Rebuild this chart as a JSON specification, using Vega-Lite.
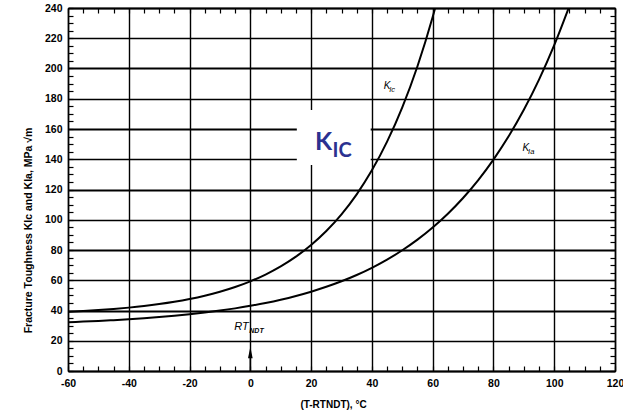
{
  "$schema": "https://vega.github.io/schema/vega-lite/v6.json",
  "width": 547,
  "height": 363,
  "autosize": {"type": "none"},
  "padding": {"left": 68, "top": 8, "right": 8, "bottom": 41},
  "background": "white",
  "config": {
    "view": {"stroke": null},
    "axis": {
      "labelFont": "Liberation Sans",
      "titleFont": "Liberation Sans",
      "labelColor": "#000",
      "titleColor": "#000",
      "domainColor": "#000",
      "tickColor": "#000",
      "gridColor": "#000"
    }
  },
  "datasets": {
    "kic": [
      {"t": -60, "k": 39.13}, {"t": -55, "k": 39.65}, {"t": -50, "k": 40.27}, {"t": -45, "k": 41.01},
      {"t": -40, "k": 41.9}, {"t": -35, "k": 42.96}, {"t": -30, "k": 44.24}, {"t": -25, "k": 45.76},
      {"t": -20, "k": 47.59}, {"t": -15, "k": 49.78}, {"t": -10, "k": 52.4}, {"t": -5, "k": 55.53},
      {"t": 0, "k": 59.28}, {"t": 5, "k": 63.78}, {"t": 10, "k": 69.16}, {"t": 15, "k": 75.6},
      {"t": 20, "k": 83.31}, {"t": 25, "k": 92.54}, {"t": 30, "k": 103.59}, {"t": 35, "k": 116.82},
      {"t": 40, "k": 132.66}, {"t": 45, "k": 151.62}, {"t": 50, "k": 174.33}, {"t": 55, "k": 201.51},
      {"t": 60, "k": 234.05}, {"t": 61, "k": 241.3}
    ],
    "kia": [
      {"t": -60, "k": 32.26}, {"t": -55, "k": 32.65}, {"t": -50, "k": 33.11}, {"t": -45, "k": 33.63},
      {"t": -40, "k": 34.21}, {"t": -35, "k": 34.89}, {"t": -30, "k": 35.65}, {"t": -25, "k": 36.52},
      {"t": -20, "k": 37.51}, {"t": -15, "k": 38.64}, {"t": -10, "k": 39.93}, {"t": -5, "k": 41.4},
      {"t": 0, "k": 43.08}, {"t": 5, "k": 44.98}, {"t": 10, "k": 47.15}, {"t": 15, "k": 49.63},
      {"t": 20, "k": 52.45}, {"t": 25, "k": 55.66}, {"t": 30, "k": 59.32}, {"t": 35, "k": 63.49},
      {"t": 40, "k": 68.25}, {"t": 45, "k": 73.66}, {"t": 50, "k": 79.83}, {"t": 55, "k": 86.86},
      {"t": 60, "k": 94.87}, {"t": 65, "k": 104.0}, {"t": 70, "k": 114.4}, {"t": 75, "k": 126.25},
      {"t": 80, "k": 139.76}, {"t": 85, "k": 155.14}, {"t": 90, "k": 172.67}, {"t": 95, "k": 192.65},
      {"t": 100, "k": 215.41}, {"t": 105, "k": 241.3}
    ]
  },
  "layer": [
    {
      "data": {"name": "kic"},
      "mark": {"type": "line", "color": "#000", "strokeWidth": 2, "clip": true, "interpolate": "monotone"},
      "encoding": {
        "x": {
          "field": "t", "type": "quantitative",
          "scale": {"domain": [-60, 120], "nice": false, "zero": false},
          "axis": {
            "orient": "bottom",
            "values": [-60,-55,-50,-45,-40,-35,-30,-25,-20,-15,-10,-5,0,5,10,15,20,25,30,35,40,45,50,55,60,65,70,75,80,85,90,95,100,105,110,115,120],
            "labelExpr": "datum.value % 20 === 0 ? '' + datum.value : ''",
            "labelOverlap": false,
            "labelFlush": false,
            "labelFontSize": 10.5,
            "labelFontWeight": "bold",
            "labelPadding": 12,
            "tickSize": -5,
            "tickWidth": 1.2,
            "domainWidth": 1.5,
            "grid": true,
            "gridOpacity": {"condition": {"test": "datum.value % 20 !== 0", "value": 0}, "value": 1},
            "gridWidth": 1.4,
            "title": "(T-RTNDT), °C",
            "titleFontSize": 10,
            "titleFontWeight": "bold",
            "titlePadding": 11,
            "titleX": 265
          }
        },
        "y": {
          "field": "k", "type": "quantitative",
          "scale": {"domain": [0, 240], "nice": false, "zero": true},
          "axis": {
            "orient": "left",
            "values": [0,5,10,15,20,25,30,35,40,45,50,55,60,65,70,75,80,85,90,95,100,105,110,115,120,125,130,135,140,145,150,155,160,165,170,175,180,185,190,195,200,205,210,215,220,225,230,235,240],
            "labelExpr": "datum.value % 20 === 0 ? '' + datum.value : ''",
            "labelOverlap": false,
            "labelFlush": false,
            "labelFontSize": 10.5,
            "labelFontWeight": "bold",
            "labelPadding": 11,
            "tickSize": -5,
            "tickWidth": 1.2,
            "domainWidth": 1.5,
            "grid": true,
            "gridOpacity": {"condition": {"test": "datum.value % 20 !== 0", "value": 0}, "value": 1},
            "gridWidth": {"condition": {"test": "datum.value % 40 === 0", "value": 2}, "value": 1.4},
            "title": "Fracture Toughness KIc and KIa, MPa √m",
            "titleFontSize": 10.5,
            "titleFontWeight": "bold",
            "titlePadding": 11,
            "titleY": 222
          }
        }
      }
    },
    {
      "data": {"name": "kia"},
      "mark": {"type": "line", "color": "#000", "strokeWidth": 2, "clip": true, "interpolate": "monotone"},
      "encoding": {
        "x": {
          "field": "t", "type": "quantitative",
          "axis": {
            "orient": "top",
            "values": [-60,-55,-50,-45,-40,-35,-30,-25,-20,-15,-10,-5,0,5,10,15,20,25,30,35,40,45,50,55,60,65,70,75,80,85,90,95,100,105,110,115,120],
            "labels": false, "grid": false, "tickSize": -5, "tickWidth": 1.2, "domainWidth": 1.5, "title": null
          }
        },
        "y": {
          "field": "k", "type": "quantitative",
          "axis": {
            "orient": "right",
            "values": [0,5,10,15,20,25,30,35,40,45,50,55,60,65,70,75,80,85,90,95,100,105,110,115,120,125,130,135,140,145,150,155,160,165,170,175,180,185,190,195,200,205,210,215,220,225,230,235,240],
            "labels": false, "grid": false, "tickSize": -5, "tickWidth": 1.2, "domainWidth": 1.5, "title": null
          }
        }
      }
    },
    {
      "data": {"values": [{"t": 15.3, "t2": 39.6, "k": 136.2, "k2": 172.6}]},
      "mark": {"type": "rect", "fill": "white"},
      "encoding": {
        "x": {"field": "t", "type": "quantitative", "axis": null},
        "x2": {"field": "t2"},
        "y": {"field": "k", "type": "quantitative", "axis": null},
        "y2": {"field": "k2"}
      }
    },
    {
      "data": {"values": [{"t": 21.3, "k": 146.1, "label": "K"}]},
      "mark": {"type": "text", "align": "left", "baseline": "alphabetic", "font": "Lato", "fontWeight": "bold", "fontSize": 25, "color": "#2b3190"},
      "encoding": {
        "x": {"field": "t", "type": "quantitative", "axis": null},
        "y": {"field": "k", "type": "quantitative", "axis": null},
        "text": {"field": "label"}
      }
    },
    {
      "data": {"values": [{"t": 21.3, "k": 146.1, "label": "IC"}]},
      "mark": {"type": "text", "align": "left", "baseline": "alphabetic", "dx": 17.5, "dy": 7, "font": "Lato", "fontWeight": "bold", "fontSize": 20, "color": "#2b3190"},
      "encoding": {
        "x": {"field": "t", "type": "quantitative", "axis": null},
        "y": {"field": "k", "type": "quantitative", "axis": null},
        "text": {"field": "label"}
      }
    },
    {
      "data": {"values": [{"t": 43.9, "k": 186.2, "label": "K"}, {"t": 89.6, "k": 145.6, "label": "K"}]},
      "mark": {"type": "text", "align": "left", "baseline": "alphabetic", "font": "Liberation Sans", "fontStyle": "italic", "fontSize": 10, "color": "#000"},
      "encoding": {
        "x": {"field": "t", "type": "quantitative", "axis": null},
        "y": {"field": "k", "type": "quantitative", "axis": null},
        "text": {"field": "label"}
      }
    },
    {
      "data": {"values": [{"t": 43.9, "k": 186.2, "label": "Ic"}, {"t": 89.6, "k": 145.6, "label": "Ia"}]},
      "mark": {"type": "text", "align": "left", "baseline": "alphabetic", "dx": 5.5, "dy": 3, "font": "Liberation Sans", "fontStyle": "italic", "fontSize": 7.5, "color": "#000"},
      "encoding": {
        "x": {"field": "t", "type": "quantitative", "axis": null},
        "y": {"field": "k", "type": "quantitative", "axis": null},
        "text": {"field": "label"}
      }
    },
    {
      "data": {"values": [{"t": -0.5, "k": 27.1, "label": "RT"}]},
      "mark": {"type": "text", "align": "right", "baseline": "alphabetic", "font": "Liberation Sans", "fontStyle": "italic", "fontSize": 11, "color": "#000"},
      "encoding": {
        "x": {"field": "t", "type": "quantitative", "axis": null},
        "y": {"field": "k", "type": "quantitative", "axis": null},
        "text": {"field": "label"}
      }
    },
    {
      "data": {"values": [{"t": -0.5, "k": 27.1, "label": "NDT"}]},
      "mark": {"type": "text", "align": "left", "baseline": "alphabetic", "dx": 0.5, "dy": 3, "font": "Liberation Sans", "fontStyle": "italic", "fontWeight": "bold", "fontSize": 7, "color": "#000"},
      "encoding": {
        "x": {"field": "t", "type": "quantitative", "axis": null},
        "y": {"field": "k", "type": "quantitative", "axis": null},
        "text": {"field": "label"}
      }
    },
    {
      "data": {"values": [{"t": 0, "k": 0, "k2": 9}]},
      "mark": {"type": "rule", "color": "#000", "strokeWidth": 1.5},
      "encoding": {
        "x": {"field": "t", "type": "quantitative", "axis": null},
        "y": {"field": "k", "type": "quantitative", "axis": null},
        "y2": {"field": "k2"}
      }
    },
    {
      "data": {"values": [{"t": 0, "k": 12.2}]},
      "mark": {"type": "point", "shape": "M0,-1L0.4,1L-0.4,1Z", "size": 135, "filled": true, "color": "#000", "opacity": 1},
      "encoding": {
        "x": {"field": "t", "type": "quantitative", "axis": null},
        "y": {"field": "k", "type": "quantitative", "axis": null}
      }
    }
  ],
  "resolve": {"axis": {"x": "independent", "y": "independent"}}
}
